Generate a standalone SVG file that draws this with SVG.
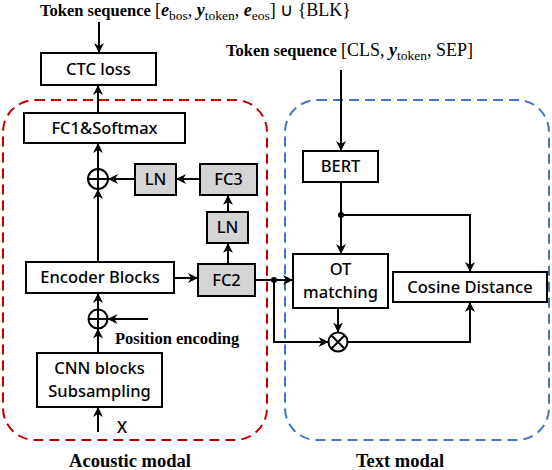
<svg xmlns="http://www.w3.org/2000/svg" width="552" height="470" viewBox="0 0 552 470">
<defs>
<style>
.box{fill:#fff;stroke:#000;stroke-width:2}
.gray{fill:#d4d4d4;stroke:#000;stroke-width:2}
.lbl{font-family:"Noto Sans","Liberation Sans",sans-serif;font-size:16.5px;font-weight:500;fill:#000;text-anchor:middle}
.ser{font-family:"Liberation Serif","Times New Roman",serif;fill:#000}
.b{font-weight:bold}
.ln{fill:none;stroke:#000;stroke-width:2}
.arr{fill:none;stroke:#000;stroke-width:2;marker-end:url(#ah)}
.red{fill:none;stroke:#c00000;stroke-width:2;stroke-dasharray:10,6}
.blue{fill:none;stroke:#4472c4;stroke-width:2;stroke-dasharray:10,6}
</style>
<marker id="ah" viewBox="0 0 10 10" refX="10" refY="5" markerWidth="10" markerHeight="10" markerUnits="userSpaceOnUse" orient="auto">
<path d="M0,0 L10,5 L0,10 L3,5 z" fill="#000"/>
</marker>
</defs>
<rect id="acoustic-region" class="red" x="3" y="100" width="264" height="340" rx="32"/>
<rect id="text-region" class="blue" x="285" y="100" width="264" height="340" rx="32"/>

<text class="ser" x="40" y="16" font-size="16.5"><tspan class="b">Token sequence </tspan><tspan font-size="18">[</tspan><tspan class="b" font-style="italic" font-size="18">e</tspan><tspan font-size="13.5" dy="3.5">bos</tspan><tspan dy="-3.5" font-size="18">, </tspan><tspan class="b" font-style="italic" font-size="18">y</tspan><tspan font-size="13.5" dy="3.5">token</tspan><tspan dy="-3.5" font-size="18">, </tspan><tspan class="b" font-style="italic" font-size="18">e</tspan><tspan font-size="13.5" dy="3.5">eos</tspan><tspan dy="-3.5" font-size="18">] ∪ {BLK}</tspan></text>
<text class="ser" x="226" y="56" font-size="16.5"><tspan class="b">Token sequence </tspan><tspan font-size="18">[CLS, </tspan><tspan class="b" font-style="italic" font-size="18">y</tspan><tspan font-size="13.5" dy="3.5">token</tspan><tspan dy="-3.5" font-size="18">, SEP]</tspan></text>

<g id="ctc"><rect class="box" x="41" y="53" width="115" height="32"/><text class="lbl" x="98.5" y="75">CTC loss</text></g>
<g id="fc1"><rect class="box" x="24" y="113" width="161" height="30"/><text class="lbl" x="104.5" y="134">FC1&amp;Softmax</text></g>
<g id="ln1"><rect class="gray" x="135" y="164" width="41" height="31"/><text class="lbl" x="155.5" y="185">LN</text></g>
<g id="fc3"><rect class="gray" x="200" y="164" width="57" height="31"/><text class="lbl" x="228.5" y="185">FC3</text></g>
<g id="ln2"><rect class="gray" x="207" y="212" width="41" height="31"/><text class="lbl" x="227.5" y="233">LN</text></g>
<g id="fc2"><rect class="gray" x="198" y="264" width="57" height="32"/><text class="lbl" x="226.5" y="286">FC2</text></g>
<g id="encoder"><rect class="box" x="26" y="262" width="148" height="31"/><text class="lbl" x="100" y="283">Encoder Blocks</text></g>
<g id="cnn"><rect class="box" x="37" y="353" width="125" height="54"/><text class="lbl" x="99.5" y="374">CNN blocks</text><text class="lbl" x="99.5" y="397">Subsampling</text></g>
<g id="add1"><circle class="ln" cx="98" cy="179" r="10"/><path class="ln" d="M88,179H108M98,169V189"/></g>
<g id="add2"><circle class="ln" cx="98" cy="319" r="9.5"/><path class="ln" d="M88.5,319H107.5M98,309.5V328.5"/></g>
<g id="bert"><rect class="box" x="303" y="151" width="75" height="31"/><text class="lbl" x="340.5" y="172">BERT</text></g>
<g id="ot"><rect class="box" x="293" y="254" width="95" height="54"/><text class="lbl" x="340.5" y="275">OT</text><text class="lbl" x="340.5" y="298">matching</text></g>
<g id="cosine"><rect class="box" x="393" y="272" width="154" height="30"/><text class="lbl" x="470" y="293">Cosine Distance</text></g>
<g id="mul"><circle class="ln" cx="338" cy="342" r="9.5"/><path class="ln" d="M331.3,335.3L344.7,348.7M344.7,335.3L331.3,348.7"/></g>

<text class="ser b" x="115" y="344" font-size="16.5">Position encoding</text>
<text x="117" y="433" font-family="Noto Sans,Liberation Sans,sans-serif" font-size="16.5" font-weight="500">X</text>
<text class="ser b" x="130" y="467" font-size="18.5" text-anchor="middle">Acoustic modal</text>
<text class="ser b" x="400" y="467" font-size="18.5" text-anchor="middle">Text modal</text>

<g id="connectors">
<path class="arr" d="M99,22V53"/>
<path class="arr" d="M98,113V85"/>
<path class="arr" d="M98,169V143"/>
<path class="arr" d="M98,262V189"/>
<path class="arr" d="M135,179H108"/>
<path class="arr" d="M200,179H176"/>
<path class="arr" d="M228,212V195"/>
<path class="arr" d="M228,264V243"/>
<path class="arr" d="M174,278H198"/>
<path class="arr" d="M98,309.5V293"/>
<path class="arr" d="M98,353V328.5"/>
<path class="arr" d="M148,319H107.5"/>
<path class="arr" d="M98,432V407"/>
<path class="arr" d="M341,70V151"/>
<path class="ln" d="M341,182V215"/>
<path class="arr" d="M341,215V254"/>
<path class="arr" d="M341,215H470V272"/>
<circle cx="341" cy="215" r="3" fill="#000"/>
<path class="ln" d="M255,280H274"/>
<path class="arr" d="M274,280H293"/>
<circle cx="274" cy="280" r="3" fill="#000"/>
<path class="arr" d="M274,280V342H328.5"/>
<path class="arr" d="M338,308V332.5"/>
<path class="arr" d="M347.5,342H470V302"/>
</g>
</svg>
